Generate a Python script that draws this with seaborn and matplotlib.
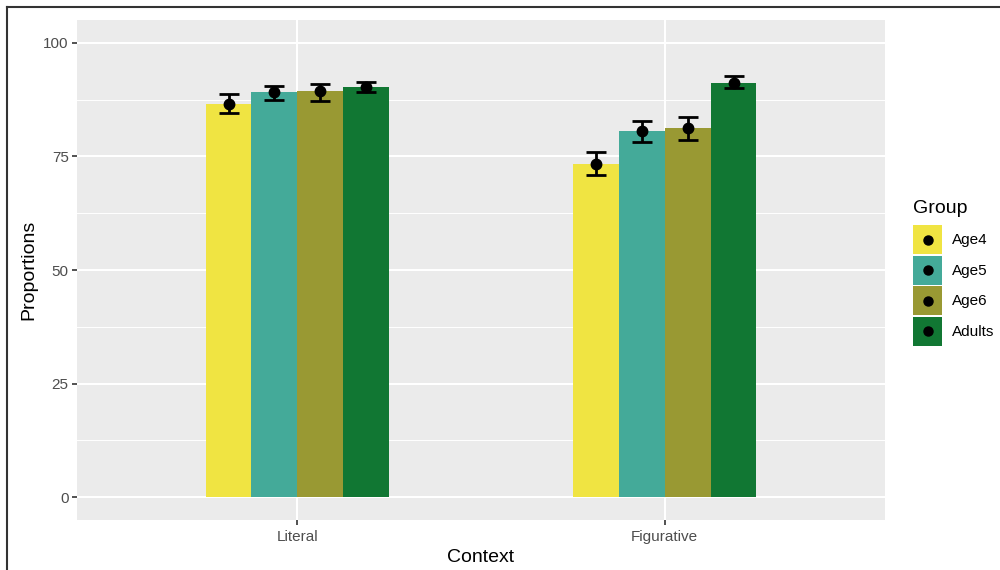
import pandas as pd
import matplotlib.pyplot as plt
import seaborn as sns
from matplotlib.patches import Patch, Rectangle
from matplotlib.lines import Line2D
from matplotlib.legend_handler import HandlerBase

# data
contexts = ["Literal", "Figurative"]
groups = ["Age4", "Age5", "Age6", "Adults"]
literal_mean = [86.5, 89.2, 89.4, 90.3]
literal_lo = [84.5, 87.4, 87.2, 89.2]
literal_hi = [88.7, 90.5, 91.0, 91.4]
figurative_mean = [73.3, 80.5, 81.2, 91.2]
figurative_lo = [70.9, 78.2, 78.7, 90.0]
figurative_hi = [75.9, 82.8, 83.6, 92.6]
colors = ["#F0E442", "#44AA99", "#999933", "#117733"]

rows = []
for ctx, means, los, his in [("Literal", literal_mean, literal_lo, literal_hi),
                             ("Figurative", figurative_mean, figurative_lo, figurative_hi)]:
    for g, m, lo, hi in zip(groups, means, los, his):
        rows.append({"Context": ctx, "Group": g, "Prop": m, "lo": lo, "hi": hi})
df = pd.DataFrame(rows)


class KeyHandler(HandlerBase):
    """ggplot-like legend key: filled square with a black dot in the middle"""
    def create_artists(self, legend, orig_handle, xdescent, ydescent,
                       width, height, fontsize, trans):
        rect = Rectangle((-xdescent, -ydescent), width, height,
                         facecolor=orig_handle.get_facecolor(), edgecolor="none",
                         transform=trans)
        dot = Line2D([-xdescent + width / 2], [-ydescent + height / 2], marker="o",
                     color="black", linestyle="none", ms=6.5, transform=trans)
        return [rect, dot]


font = ["Liberation Sans", "DejaVu Sans"]
plt.rcParams["font.family"] = font

fig = plt.figure(figsize=(10, 5.7), dpi=100)
ax = fig.add_axes([0.077, 0.0877, 0.808, 0.877])
ax.set_facecolor("#EBEBEB")

palette = dict(zip(groups, colors))
sns.barplot(data=df, x="Context", y="Prop", hue="Group", order=contexts,
            hue_order=groups, palette=palette, width=0.5, saturation=1,
            legend=False, ax=ax, errorbar=None, zorder=3, linewidth=0)

# error bars + points on dodged positions
nh = len(groups)
bw = 0.5 / nh
for _, r in df.iterrows():
    xi = contexts.index(r["Context"]) - 0.25 + bw * (groups.index(r["Group"]) + 0.5)
    ax.errorbar([xi], [r["Prop"]], yerr=[[r["Prop"] - r["lo"]], [r["hi"] - r["Prop"]]],
                fmt="o", color="black", ms=7.5, elinewidth=2, capsize=7,
                capthick=2, zorder=5)

ax.set_xlim(-0.6, 1.6)
ax.set_ylim(-5, 105)
ax.set_yticks([0, 25, 50, 75, 100])
ax.set_yticks([12.5, 37.5, 62.5, 87.5], minor=True)
ax.grid(True, which="major", color="white", linewidth=1.5, zorder=0)
ax.grid(True, which="minor", axis="y", color="white", linewidth=0.7, zorder=0)
ax.set_axisbelow(True)
for s in ax.spines.values():
    s.set_visible(False)
ax.tick_params(axis="both", which="major", length=3.5, width=1.2, color="#333333",
               labelcolor="#4D4D4D", labelsize=11, pad=2.5)
ax.tick_params(axis="x", which="major", pad=4)
ax.tick_params(axis="both", which="minor", length=0)
ax.set_xlabel("Context", fontsize=14, labelpad=3.5)
ax.set_ylabel("Proportions", fontsize=14, labelpad=4)

handles = [Patch(facecolor=c) for c in colors]
leg = fig.legend(handles, groups, loc="upper left", bbox_to_anchor=(0.913, 0.6495),
                 frameon=False, title="Group", fontsize=11, title_fontsize=14,
                 handler_map={Patch: KeyHandler()},
                 handlelength=1.9, handleheight=2.55, labelspacing=0.1,
                 handletextpad=0.65, borderpad=0, borderaxespad=0)
leg._legend_box.align = "left"
leg._legend_box.sep = 6

# frame lines on top and left edge of the image
fig.add_artist(Line2D([0.007, 0.007], [0, 0.988], color="#333333", linewidth=1.5))
fig.add_artist(Line2D([0.007, 1], [0.988, 0.988], color="#333333", linewidth=1.5))

fig.savefig("out.png", dpi=100)
